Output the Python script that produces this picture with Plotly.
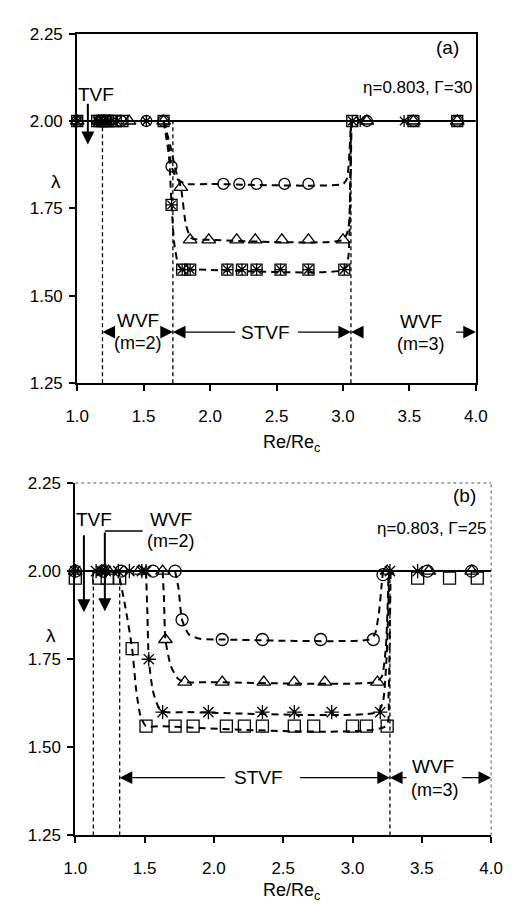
import plotly.graph_objects as go

# ---------------- data: panel (a)  eta=0.803, Gamma=30 ----------------
a_circle_x = [1.00, 1.17, 1.22, 1.33, 1.52, 1.65, 1.71, 2.10, 2.22, 2.35, 2.56, 2.74, 3.18, 3.53, 3.86]
a_circle_y = [2.00, 2.00, 2.00, 2.00, 2.00, 2.00, 1.87, 1.82, 1.82, 1.82, 1.82, 1.82, 2.00, 2.00, 2.00]
a_tri_x = [1.00, 1.16, 1.20, 1.24, 1.39, 1.65, 1.78, 1.85, 1.99, 2.20, 2.34, 2.54, 2.74, 3.00, 3.18, 3.53, 3.86]
a_tri_y = [2.00, 2.00, 2.00, 2.00, 2.00, 2.00, 1.81, 1.66, 1.66, 1.66, 1.66, 1.66, 1.66, 1.66, 2.00, 2.00, 2.00]
a_star_x = [1.00, 1.15, 1.19, 1.23, 1.30, 1.52, 1.71, 1.79, 1.85, 2.13, 2.24, 2.35, 2.53, 2.74, 3.01, 3.07, 3.13, 3.46]
a_star_y = [2.00, 2.00, 2.00, 2.00, 2.00, 2.00, 1.76, 1.575, 1.575, 1.575, 1.575, 1.575, 1.575, 1.575, 1.575, 2.00, 2.00, 2.00]
a_sq_x = [1.00, 1.15, 1.17, 1.19, 1.21, 1.23, 1.25, 1.29, 1.34, 1.65, 1.71, 1.79, 1.85, 2.13, 2.24, 2.35, 2.53, 2.74, 3.01, 3.07, 3.53, 3.86]
a_sq_y = [2.00, 2.00, 2.00, 2.00, 2.00, 2.00, 2.00, 2.00, 2.00, 2.00, 1.76, 1.575, 1.575, 1.575, 1.575, 1.575, 1.575, 1.575, 1.575, 2.00, 2.00, 2.00]

# hand-drawn dashed fit curves (a)
a_circle_fit_x = [1.65, 1.68, 1.71, 1.75, 1.82, 2.00, 3.00, 3.03, 3.05, 3.06]
a_circle_fit_y = [2.00, 1.95, 1.87, 1.835, 1.82, 1.82, 1.82, 1.835, 1.92, 2.00]
a_tri_fit_x = [1.65, 1.70, 1.74, 1.78, 1.82, 1.86, 2.00, 3.00, 3.04, 3.055, 3.06]
a_tri_fit_y = [2.00, 1.93, 1.86, 1.81, 1.70, 1.665, 1.66, 1.66, 1.69, 1.85, 2.00]
a_sq_fit_x = [1.65, 1.69, 1.71, 1.73, 1.76, 1.79, 1.90, 3.01, 3.04, 3.055, 3.065]
a_sq_fit_y = [2.00, 1.90, 1.76, 1.65, 1.59, 1.575, 1.575, 1.575, 1.61, 1.80, 2.00]
a_bounds = [1.19, 1.72, 3.06]

# ---------------- data: panel (b)  eta=0.803, Gamma=25 ----------------
b_circle_x = [1.00, 1.20, 1.33, 1.56, 1.72, 1.77, 2.06, 2.35, 2.77, 3.15, 3.22, 3.54, 3.86]
b_circle_y = [2.00, 2.00, 2.00, 2.00, 2.00, 1.862, 1.806, 1.806, 1.806, 1.806, 1.99, 2.00, 2.00]
b_tri_x = [1.00, 1.20, 1.24, 1.46, 1.63, 1.65, 1.79, 2.06, 2.36, 2.58, 2.80, 3.18, 3.25, 3.55, 3.86]
b_tri_y = [2.00, 2.00, 2.00, 2.00, 2.00, 1.806, 1.685, 1.685, 1.685, 1.685, 1.685, 1.685, 2.00, 2.00, 2.00]
b_star_x = [1.00, 1.15, 1.19, 1.22, 1.31, 1.39, 1.48, 1.51, 1.53, 1.63, 1.96, 2.35, 2.58, 2.85, 3.20, 3.27, 3.47]
b_star_y = [2.00, 2.00, 2.00, 2.00, 2.00, 2.00, 2.00, 2.00, 1.75, 1.60, 1.60, 1.60, 1.60, 1.60, 1.60, 2.00, 2.00]
b_sq_x = [1.00, 1.17, 1.23, 1.32, 1.41, 1.51, 1.72, 1.85, 2.09, 2.22, 2.35, 2.58, 2.72, 3.00, 3.10, 3.25, 3.47, 3.70, 3.90]
b_sq_y = [1.98, 1.98, 1.98, 1.98, 1.78, 1.56, 1.56, 1.56, 1.56, 1.56, 1.56, 1.56, 1.56, 1.56, 1.56, 1.56, 1.98, 1.98, 1.98]

b_circle_fit_x = [1.72, 1.745, 1.77, 1.82, 1.90, 2.05, 3.12, 3.16, 3.19, 3.21, 3.22]
b_circle_fit_y = [2.00, 1.95, 1.862, 1.82, 1.808, 1.806, 1.806, 1.82, 1.88, 1.96, 2.00]
b_tri_fit_x = [1.63, 1.64, 1.65, 1.69, 1.74, 1.79, 1.95, 3.16, 3.21, 3.24, 3.255, 3.26]
b_tri_fit_y = [2.00, 1.92, 1.806, 1.73, 1.695, 1.685, 1.685, 1.685, 1.70, 1.78, 1.92, 2.00]
b_star_fit_x = [1.51, 1.52, 1.53, 1.56, 1.60, 1.65, 1.80, 3.18, 3.22, 3.245, 3.26, 3.265]
b_star_fit_y = [2.00, 1.88, 1.75, 1.66, 1.615, 1.60, 1.60, 1.60, 1.63, 1.75, 1.92, 2.00]
b_sq_fit_x = [1.32, 1.36, 1.41, 1.44, 1.47, 1.51, 1.60, 3.24, 3.26, 3.27, 3.275]
b_sq_fit_y = [1.98, 1.90, 1.78, 1.66, 1.59, 1.56, 1.56, 1.56, 1.65, 1.85, 2.00]
b_bounds = [1.13, 1.32, 3.27]

x_ticks = [1.0, 1.5, 2.0, 2.5, 3.0, 3.5, 4.0]
y_ticks = [1.25, 1.50, 1.75, 2.00, 2.25]

FONT = "Arial, 'Liberation Sans', sans-serif"
fig = go.Figure()

def add_panel(xa, ya, series, fits, bounds):
    bx, by = [], []
    for b in bounds:
        bx += [b, b, None]
        by += [1.25, 2.0, None]
    fig.add_trace(go.Scatter(x=bx, y=by, xaxis=xa, yaxis=ya, mode="lines",
                             line=dict(color="black", width=1.3, dash="4px,3px"),
                             showlegend=False, hoverinfo="skip"))
    fig.add_trace(go.Scatter(x=[x_ticks[0], x_ticks[-1]], y=[2.0, 2.0], xaxis=xa, yaxis=ya,
                             mode="lines", line=dict(color="black", width=2),
                             showlegend=False, hoverinfo="skip", cliponaxis=False))
    for fx, fy in fits:
        fig.add_trace(go.Scatter(x=fx, y=fy, xaxis=xa, yaxis=ya, mode="lines",
                                 line=dict(color="black", width=2, dash="7px,5px",
                                           shape="spline", smoothing=0.6),
                                 showlegend=False, hoverinfo="skip"))
    for sx, sy, sym, size in series:
        fig.add_trace(go.Scatter(x=sx, y=sy, xaxis=xa, yaxis=ya, mode="markers",
                                 marker=dict(symbol=sym, size=size, color="black",
                                             line=dict(color="black", width=1.3)),
                                 showlegend=False, cliponaxis=False))

add_panel("x", "y",
          [(a_circle_x, a_circle_y, "circle-open", 11),
           (a_tri_x, a_tri_y, "triangle-up-open", 12),
           (a_sq_x, a_sq_y, "square-open", 11),
           (a_star_x, a_star_y, "asterisk-open", 10)],
          [(a_circle_fit_x, a_circle_fit_y), (a_tri_fit_x, a_tri_fit_y),
           (a_sq_fit_x, a_sq_fit_y)],
          a_bounds)
add_panel("x2", "y2",
          [(b_circle_x, b_circle_y, "circle-open", 12),
           (b_tri_x, b_tri_y, "triangle-up-open", 12),
           (b_sq_x, b_sq_y, "square-open", 12),
           (b_star_x, b_star_y, "asterisk-open", 12)],
          [(b_circle_fit_x, b_circle_fit_y), (b_tri_fit_x, b_tri_fit_y),
           (b_star_fit_x, b_star_fit_y), (b_sq_fit_x, b_sq_fit_y)],
          b_bounds)

W, H = 518, 905
def xdom(l, r): return [l / W, r / W]
def ydom(t, b): return [1 - b / H, 1 - t / H]
def px(x): return x / W
def py(y): return 1 - y / H

axis_common = dict(showgrid=False, zeroline=False, ticks="outside", ticklen=6, tickwidth=1.5,
                   tickcolor="black", linecolor="black", linewidth=2,
                   tickfont=dict(family=FONT, size=17, color="black"))
fig.update_layout(
    width=W, height=H, margin=dict(l=0, r=0, t=0, b=0),
    paper_bgcolor="white", plot_bgcolor="white", showlegend=False,
    xaxis=dict(domain=xdom(60, 478), range=[1.0, 4.0], tickvals=x_ticks, tickformat=".1f",
               anchor="y", mirror=True, ticklabelstandoff=10, **axis_common),
    yaxis=dict(domain=ydom(17, 374), range=[1.25, 2.25], tickvals=y_ticks, tickformat=".2f",
               anchor="x", mirror=True, ticklabelstandoff=3, **axis_common),
    xaxis2=dict(domain=xdom(58, 494), range=[1.0, 4.0], tickvals=x_ticks, tickformat=".1f",
                anchor="y2", ticklabelstandoff=10, **axis_common),
    yaxis2=dict(domain=ydom(476, 836), range=[1.25, 2.25], tickvals=y_ticks, tickformat=".2f",
                anchor="x2", ticklabelstandoff=3, **axis_common),
)
fig.add_shape(type="line", xref="x2 domain", yref="y2 domain", x0=0, x1=1, y0=1, y1=1,
              line=dict(color="#555", width=1, dash="dot"))
fig.add_shape(type="line", xref="x2 domain", yref="y2 domain", x0=1, x1=1, y0=0, y1=1,
              line=dict(color="#555", width=1, dash="dot"))

ann = []
def text(xr, yr, x, y, t, size=18, xanchor="center"):
    ann.append(dict(xref=xr, yref=yr, x=x, y=y, text=t, showarrow=False, xanchor=xanchor,
                    yanchor="middle", font=dict(family=FONT, size=size, color="black")))
def arrow(xr, yr, x0, y0, x1, y1, width=1.4, head=2, size=1.8):
    ann.append(dict(xref=xr, yref=yr, axref=xr, ayref=yr, x=x1, y=y1, ax=x0, ay=y0, text="",
                    showarrow=True, arrowhead=head, arrowwidth=width, arrowsize=size,
                    arrowcolor="black"))

# panel (a)
text("x", "y", 3.785, 2.211, "(a)", size=19)
text("x", "y", 3.99, 2.096, "η=0.803, Γ=30", size=17, xanchor="right")
text("x", "y", 1.145, 2.076, "TVF", size=19)
arrow("x", "y", 1.08, 2.054, 1.08, 1.933, width=2, head=2, size=1.3)
text("x", "y", 1.455, 1.43, "WVF", size=19)
text("x", "y", 1.455, 1.365, "(m=2)", size=18)
arrow("x", "y", 1.28, 1.396, 1.19, 1.396)
arrow("x", "y", 1.63, 1.396, 1.72, 1.396)
arrow("x", "y", 2.20, 1.396, 1.72, 1.396)
text("x", "y", 2.415, 1.396, "STVF", size=19)
arrow("x", "y", 2.65, 1.396, 3.06, 1.396)
arrow("x", "y", 3.16, 1.396, 3.06, 1.396)
text("x", "y", 3.59, 1.427, "WVF", size=19)
text("x", "y", 3.59, 1.362, "(m=3)", size=18)
arrow("x", "y", 3.84, 1.396, 4.0, 1.396)

# panel (b)
text("x2", "y2", 3.81, 2.214, "(b)", size=19)
text("x2", "y2", 3.987, 2.122, "η=0.803, Γ=25", size=17, xanchor="right")
text("x2", "y2", 1.138, 2.147, "TVF", size=19)
arrow("x2", "y2", 1.062, 2.106, 1.062, 1.883, width=2, head=2, size=1.3)
text("x2", "y2", 1.69, 2.147, "WVF", size=19)
text("x2", "y2", 1.69, 2.086, "(m=2)", size=18)
arrow("x2", "y2", 1.496, 2.114, 1.213, 2.114, head=0)
arrow("x2", "y2", 1.213, 2.114, 1.213, 1.886, width=2, head=2, size=1.3)
arrow("x2", "y2", 2.09, 1.414, 1.32, 1.414)
text("x2", "y2", 2.32, 1.414, "STVF", size=19)
arrow("x2", "y2", 2.61, 1.414, 3.27, 1.414)
arrow("x2", "y2", 3.40, 1.414, 3.27, 1.414)
text("x2", "y2", 3.58, 1.446, "WVF", size=19)
text("x2", "y2", 3.595, 1.38, "(m=3)", size=18)
arrow("x2", "y2", 3.78, 1.414, 4.0, 1.414)

# axis titles
text("paper", "paper", px(38), py(168), "λ", size=19)
text("paper", "paper", px(33), py(632), "λ", size=19)
text("paper", "paper", px(285), py(436), "Re/Re<sub>c</sub>", size=18)
text("paper", "paper", px(285), py(893), "Re/Re<sub>c</sub>", size=18)

fig.update_layout(annotations=ann)
fig.write_html("out.html")
